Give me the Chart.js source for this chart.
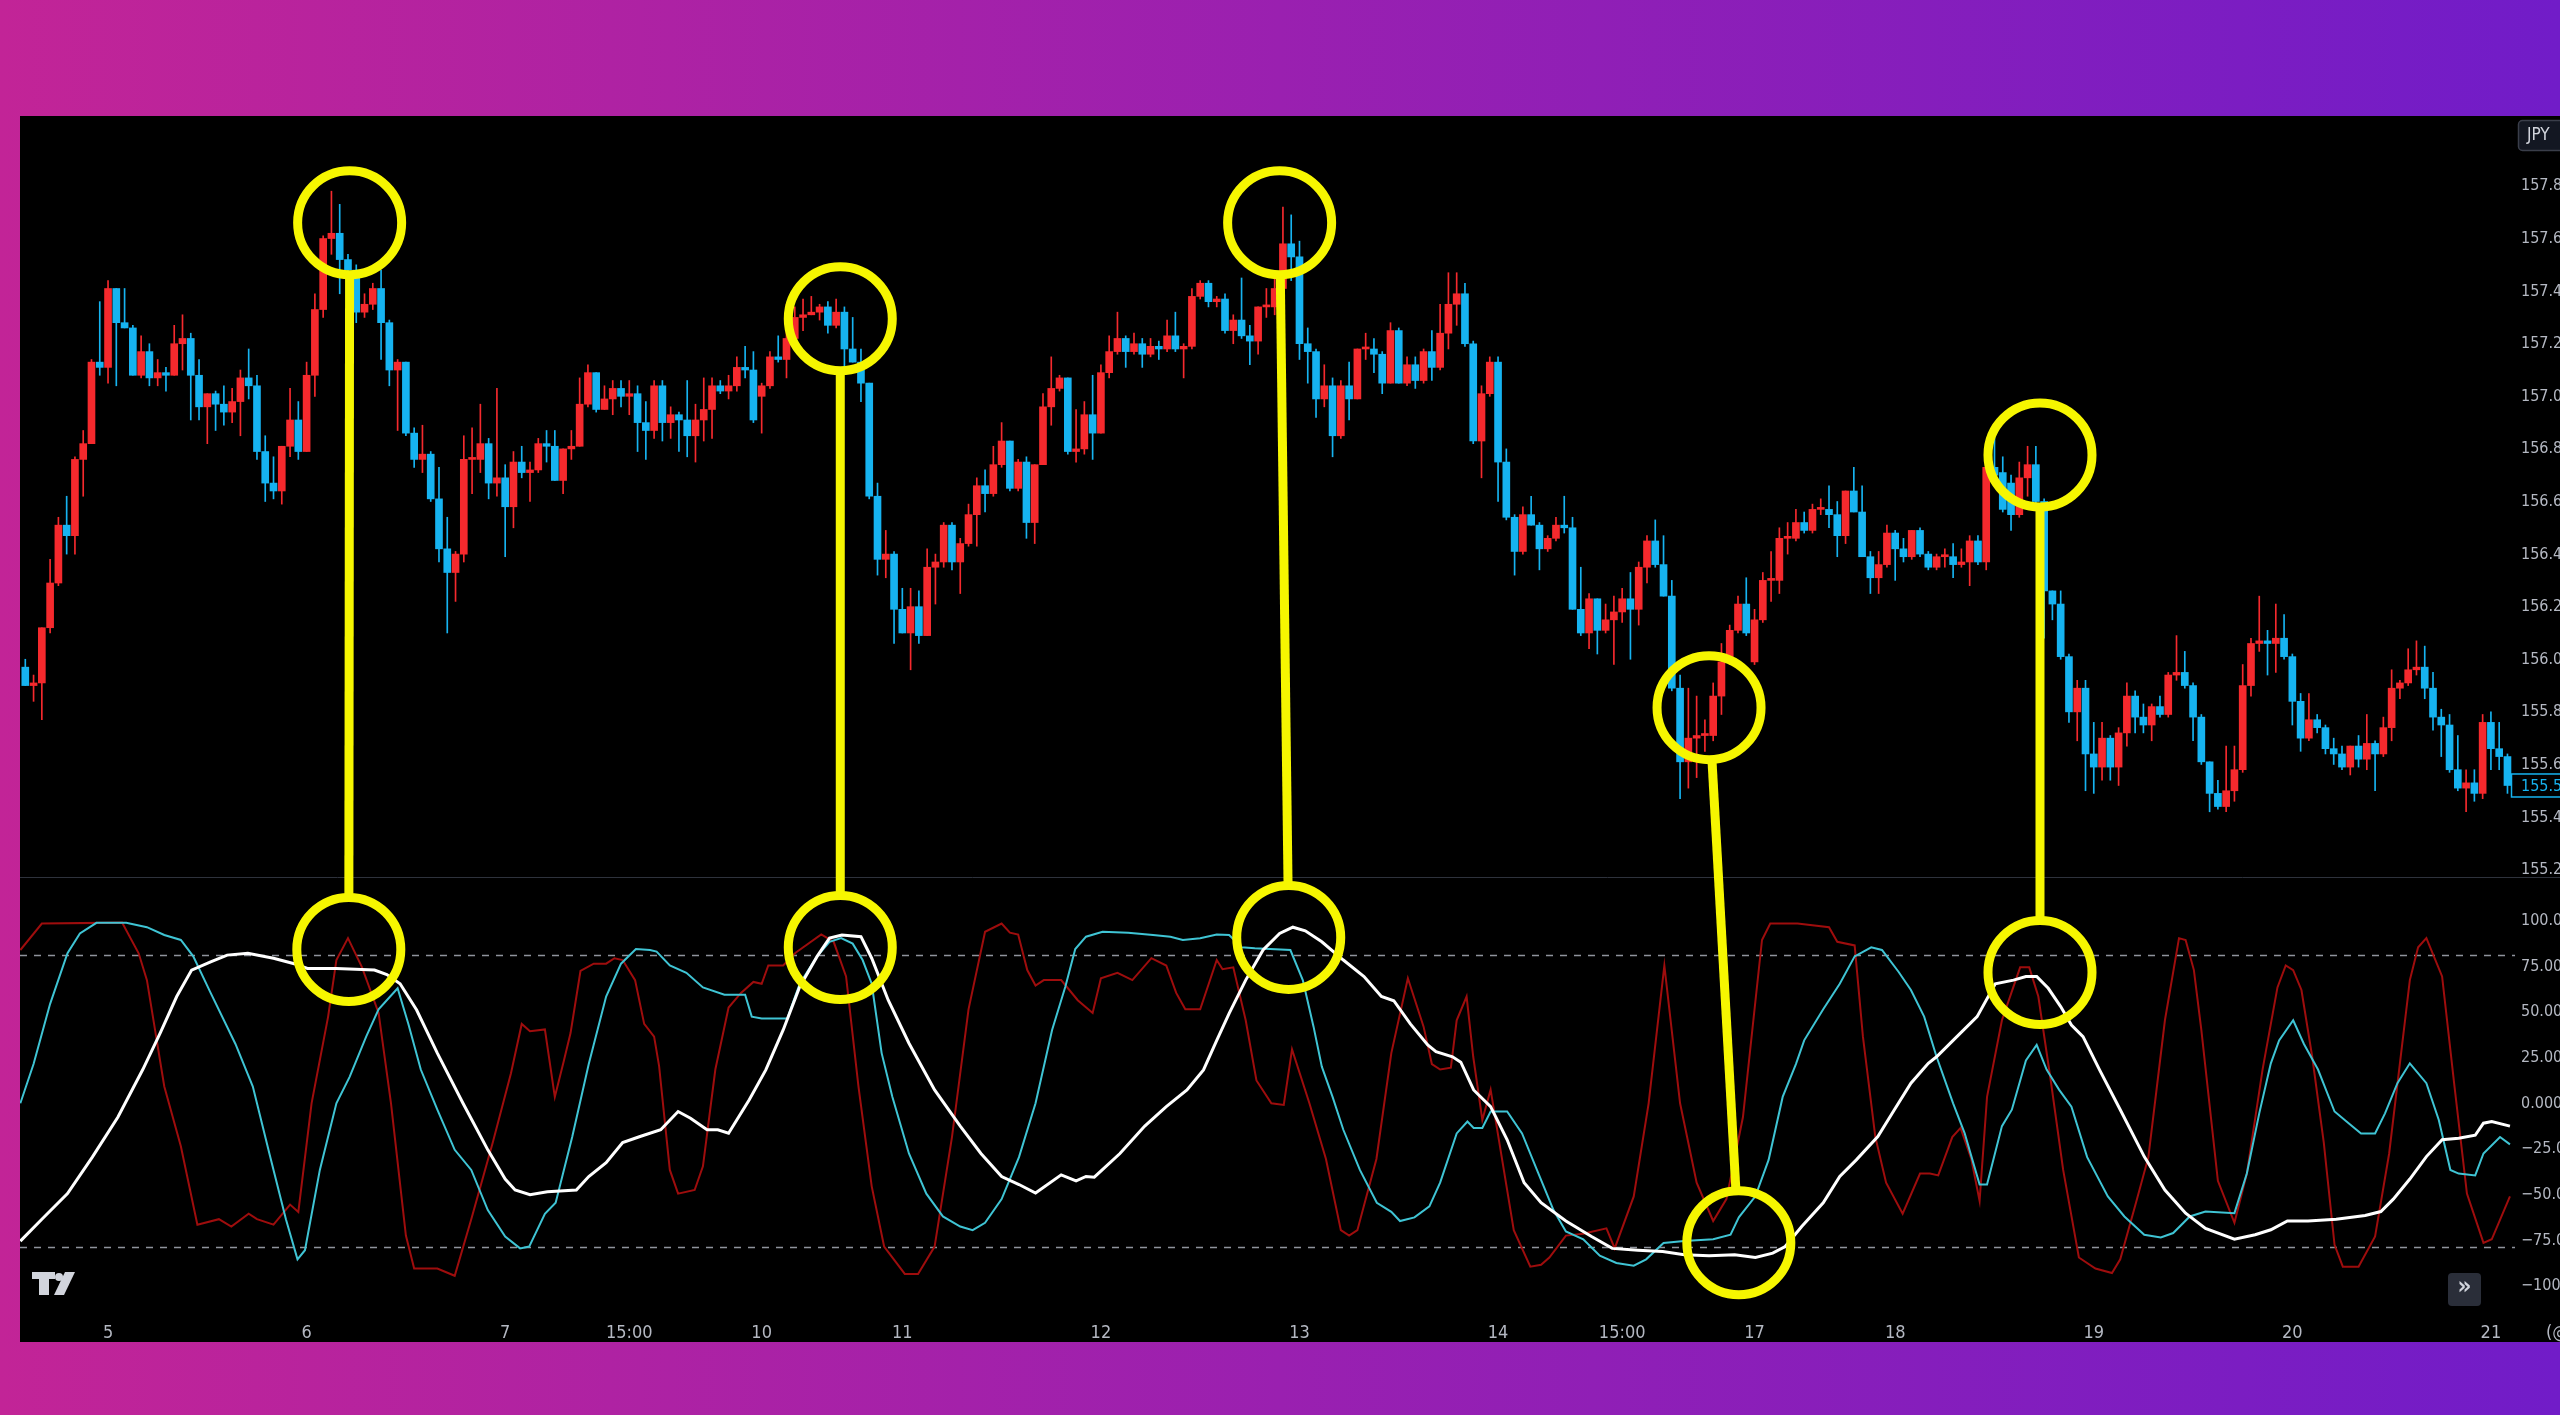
<!DOCTYPE html>
<html>
<head>
<meta charset="utf-8">
<script src="https://cdn.jsdelivr.net/npm/chart.js@4.4.1/dist/chart.umd.min.js"></script>
<style>
  html, body { margin: 0; padding: 0; width: 2560px; height: 1415px; overflow: hidden;
    background: linear-gradient(90deg, #c22497 0%, #9a20b0 50%, #711cc8 100%); }
  #wrap { position: absolute; left: 20px; top: 116px; width: 2540px; height: 1226px; background: #000; }
  canvas { display: block; }
</style>
</head>
<body>
<div id="wrap"><canvas id="chart" width="2540" height="1226"></canvas></div>
<script>
// hourly candles, index 0 = first bar on the left
const openP = [
  155.96,155.89,155.90,156.11,156.28,156.50,156.46,156.75,156.81,157.12,
  157.10,157.40,157.27,157.25,157.07,157.16,157.06,157.08,157.07,157.19,
  157.21,157.07,156.95,157.00,156.96,156.93,156.97,157.06,157.03,156.78,
  156.66,156.63,156.80,156.90,156.78,157.07,157.32,157.59,157.61,157.51,
  157.47,157.31,157.34,157.40,157.27,157.09,157.12,156.85,156.75,156.77,
  156.60,156.41,156.32,156.39,156.75,156.75,156.81,156.66,156.68,156.57,
  156.74,156.70,156.71,156.81,156.80,156.67,156.79,156.80,156.96,157.08,
  156.94,156.98,157.02,156.99,157.00,156.89,156.86,157.03,156.89,156.92,
  156.90,156.84,156.90,156.94,157.03,157.01,157.03,157.10,157.09,156.99,
  157.03,157.14,157.13,157.21,157.29,157.30,157.31,157.33,157.26,157.31,
  157.17,157.12,157.04,156.61,156.37,156.39,156.18,156.09,156.19,156.08,
  156.34,156.36,156.50,156.36,156.43,156.54,156.65,156.62,156.73,156.82,
  156.64,156.74,156.51,156.73,156.95,157.02,157.06,156.78,156.79,156.92,
  156.85,157.08,157.16,157.21,157.16,157.19,157.15,157.18,157.17,157.22,
  157.17,157.18,157.37,157.42,157.35,157.36,157.24,157.28,157.22,157.20,
  157.33,157.33,157.40,157.57,157.52,157.19,157.16,156.98,157.03,156.84,
  157.03,156.98,157.17,157.17,157.15,157.04,157.24,157.04,157.11,157.05,
  157.16,157.10,157.23,157.34,157.38,157.19,156.82,157.00,157.12,156.74,
  156.53,156.40,156.54,156.50,156.41,156.45,156.50,156.49,156.18,156.09,
  156.22,156.10,156.14,156.17,156.22,156.18,156.34,156.44,156.35,156.23,
  155.88,155.60,155.69,155.70,155.70,155.85,155.98,156.10,156.20,155.98,
  156.14,156.29,156.29,156.45,156.45,156.51,156.48,156.56,156.56,156.54,
  156.46,156.63,156.55,156.38,156.30,156.35,156.47,156.41,156.38,156.48,
  156.39,156.34,156.38,156.38,156.35,156.36,156.44,156.36,156.72,156.70,
  156.66,156.54,156.68,156.73,156.59,156.25,156.20,156.00,155.79,155.88,
  155.63,155.58,155.69,155.58,155.71,155.85,155.77,155.74,155.81,155.78,
  155.93,155.94,155.89,155.77,155.60,155.48,155.43,155.49,155.57,155.89,
  156.05,156.06,156.05,156.07,156.00,155.83,155.69,155.76,155.73,155.65,
  155.63,155.58,155.66,155.61,155.67,155.63,155.73,155.88,155.90,155.95,
  155.96,155.88,155.77,155.74,155.57,155.50,155.52,155.48,155.75,155.65,
  155.62
];
const highP = [
  155.99,155.93,156.11,156.37,156.53,156.61,156.76,156.86,157.13,157.35,
  157.43,157.40,157.40,157.26,157.22,157.19,157.13,157.10,157.26,157.30,
  157.23,157.13,157.00,157.01,157.03,157.02,157.09,157.17,157.07,156.84,
  156.76,156.80,157.02,156.97,157.12,157.38,157.60,157.77,157.72,157.53,
  157.49,157.38,157.42,157.47,157.28,157.13,157.12,156.87,156.88,156.78,
  156.72,156.53,156.40,156.84,156.87,156.96,156.83,157.02,156.73,156.78,
  156.80,156.74,156.83,156.86,156.86,156.79,156.86,157.06,157.11,157.08,
  157.03,157.05,157.05,157.05,157.03,156.97,157.05,157.05,156.95,156.93,
  157.05,156.96,157.06,157.06,157.05,157.07,157.14,157.18,157.16,157.04,
  157.16,157.22,157.34,157.33,157.36,157.37,157.34,157.35,157.36,157.33,
  157.29,157.17,157.04,156.66,156.48,156.40,156.26,156.26,156.25,156.41,
  156.39,156.51,156.51,156.45,156.58,156.68,156.71,156.80,156.89,156.82,
  156.75,156.76,156.73,157.00,157.14,157.07,157.06,156.94,156.97,157.07,
  157.11,157.22,157.31,157.22,157.23,157.21,157.21,157.20,157.28,157.31,
  157.19,157.40,157.43,157.43,157.37,157.38,157.30,157.44,157.26,157.33,
  157.40,157.44,157.71,157.68,157.58,157.25,157.17,157.11,157.06,157.05,
  157.12,157.17,157.23,157.21,157.16,157.27,157.25,157.14,157.14,157.17,
  157.24,157.34,157.46,157.46,157.42,157.20,157.03,157.14,157.14,156.79,
  156.54,156.57,156.61,156.51,156.46,156.53,156.61,156.53,156.34,156.24,
  156.22,156.20,156.23,156.26,156.32,156.36,156.46,156.52,156.46,156.29,
  155.93,155.88,155.85,155.76,155.90,156.05,156.12,156.23,156.30,156.18,
  156.32,156.40,156.49,156.51,156.56,156.55,156.58,156.60,156.65,156.59,
  156.63,156.72,156.65,156.40,156.40,156.50,156.48,156.45,156.48,156.49,
  156.40,156.39,156.41,156.43,156.41,156.46,156.46,156.72,156.84,156.76,
  156.69,156.74,156.80,156.80,156.60,156.25,156.25,156.01,155.91,155.91,
  155.75,155.75,155.70,155.73,155.90,155.87,155.82,155.82,155.85,155.94,
  156.08,156.02,155.90,155.78,155.60,155.53,155.66,155.66,155.97,156.07,
  156.23,156.10,156.20,156.16,156.01,155.86,155.86,155.78,155.74,155.69,
  155.66,155.66,155.70,155.78,155.68,155.77,155.95,155.91,156.03,156.06,
  156.04,155.94,155.80,155.78,155.70,155.57,155.57,155.78,155.79,155.75,
  155.63
];
const lowP = [
  155.89,155.83,155.76,156.09,156.27,156.39,156.39,156.61,156.81,157.07,
  157.04,157.03,157.25,157.07,157.06,157.03,157.03,157.01,157.07,157.09,
  156.90,156.90,156.81,156.86,156.88,156.89,156.84,156.98,156.75,156.59,
  156.60,156.58,156.76,156.75,156.78,156.99,157.29,157.53,157.38,157.44,
  157.27,157.29,157.32,157.13,157.03,156.86,156.84,156.72,156.70,156.59,
  156.36,156.09,156.21,156.36,156.62,156.70,156.60,156.61,156.38,156.49,
  156.68,156.59,156.70,156.74,156.67,156.62,156.75,156.80,156.95,156.93,
  156.94,156.92,156.95,156.92,156.78,156.75,156.83,156.82,156.83,156.78,
  156.76,156.74,156.82,156.83,157.00,156.98,157.01,157.06,156.89,156.85,
  157.02,157.12,157.06,157.20,157.24,157.30,157.28,157.23,157.25,157.10,
  157.12,156.97,156.60,156.31,156.30,156.05,156.09,155.95,156.05,156.08,
  156.20,156.34,156.33,156.24,156.42,156.42,156.55,156.61,156.72,156.63,
  156.63,156.45,156.43,156.73,156.88,157.01,156.77,156.74,156.77,156.75,
  156.85,157.06,157.15,157.10,157.15,157.10,157.14,157.13,157.16,157.16,
  157.06,157.17,157.36,157.33,157.33,157.23,157.19,157.21,157.11,157.15,
  157.29,157.30,157.40,157.43,157.13,157.04,156.91,156.95,156.76,156.83,
  156.90,156.98,157.13,157.08,157.00,157.04,157.04,157.03,157.02,157.04,
  157.05,157.09,157.17,157.26,157.18,156.81,156.68,156.99,156.59,156.52,
  156.31,156.39,156.50,156.33,156.40,156.44,156.47,156.18,156.08,156.03,
  156.01,156.09,155.97,156.13,155.99,156.12,156.28,156.34,156.23,155.87,
  155.46,155.50,155.54,155.64,155.68,155.78,155.97,156.09,156.08,155.97,
  156.13,156.21,156.24,156.39,156.44,156.47,156.47,156.54,156.49,156.38,
  156.43,156.55,156.38,156.24,156.24,156.34,156.29,156.36,156.37,156.38,
  156.33,156.33,156.34,156.30,156.34,156.27,156.35,156.33,156.65,156.55,
  156.48,156.53,156.61,156.56,156.07,156.14,155.99,155.75,155.68,155.49,
  155.48,155.53,155.53,155.51,155.66,155.71,155.71,155.68,155.77,155.77,
  155.91,155.88,155.68,155.59,155.41,155.42,155.41,155.45,155.56,155.85,
  156.02,155.93,155.94,155.99,155.74,155.64,155.68,155.71,155.63,155.59,
  155.57,155.55,155.58,155.57,155.49,155.62,155.68,155.84,155.89,155.93,
  155.84,155.72,155.62,155.56,155.49,155.41,155.45,155.46,155.57,155.57,
  155.48
];
const closeP = [
  155.89,155.90,156.11,156.28,156.50,156.46,156.75,156.81,157.12,157.10,
  157.40,157.27,157.25,157.07,157.16,157.06,157.08,157.07,157.19,157.21,
  157.07,156.95,157.00,156.96,156.93,156.97,157.06,157.03,156.78,156.66,
  156.63,156.80,156.90,156.78,157.07,157.32,157.59,157.61,157.51,157.47,
  157.31,157.34,157.40,157.27,157.09,157.12,156.85,156.75,156.77,156.60,
  156.41,156.32,156.39,156.75,156.75,156.81,156.66,156.68,156.57,156.74,
  156.70,156.71,156.81,156.80,156.67,156.79,156.80,156.96,157.08,156.94,
  156.98,157.02,156.99,157.00,156.89,156.86,157.03,156.89,156.92,156.90,
  156.84,156.90,156.94,157.03,157.01,157.03,157.10,157.09,156.90,157.03,
  157.14,157.13,157.21,157.29,157.30,157.31,157.33,157.26,157.31,157.17,
  157.12,157.04,156.61,156.37,156.39,156.18,156.09,156.19,156.08,156.34,
  156.36,156.50,156.36,156.43,156.54,156.65,156.62,156.73,156.82,156.64,
  156.74,156.51,156.73,156.95,157.02,157.06,156.78,156.79,156.92,156.85,
  157.08,157.16,157.21,157.16,157.19,157.15,157.18,157.17,157.22,157.17,
  157.18,157.37,157.42,157.35,157.36,157.24,157.28,157.22,157.20,157.33,
  157.33,157.40,157.57,157.52,157.19,157.16,156.98,157.03,156.84,157.03,
  156.98,157.17,157.17,157.15,157.04,157.24,157.04,157.11,157.05,157.16,
  157.10,157.23,157.34,157.38,157.19,156.82,157.00,157.12,156.74,156.53,
  156.40,156.54,156.50,156.41,156.45,156.50,156.49,156.18,156.09,156.22,
  156.10,156.14,156.17,156.22,156.18,156.34,156.44,156.35,156.23,155.88,
  155.60,155.69,155.70,155.70,155.85,155.98,156.10,156.20,156.09,156.14,
  156.29,156.29,156.45,156.45,156.51,156.48,156.56,156.56,156.54,156.46,
  156.63,156.55,156.38,156.30,156.35,156.47,156.41,156.38,156.48,156.39,
  156.34,156.38,156.38,156.35,156.36,156.44,156.36,156.72,156.69,156.56,
  156.54,156.68,156.73,156.59,156.25,156.20,156.00,155.79,155.88,155.63,
  155.58,155.69,155.58,155.71,155.85,155.77,155.74,155.81,155.78,155.93,
  155.94,155.89,155.77,155.60,155.48,155.43,155.49,155.57,155.89,156.05,
  156.06,156.05,156.07,156.00,155.83,155.69,155.76,155.73,155.65,155.63,
  155.58,155.66,155.61,155.67,155.63,155.73,155.88,155.90,155.95,155.96,
  155.88,155.77,155.74,155.57,155.50,155.52,155.48,155.75,155.65,155.62,
  155.51
];

// oscillator lines: [bar index, value]
const oscWhite = [
  [-0.6,-77],[2,-65],[5.1,-51],[8.1,-31],[11.2,-9],[14.2,17],[16.3,37],[18.3,57],[20.1,71.5],[22.4,76],
  [24.4,79.7],[26.9,80.7],[30,78],[32.5,75],[34.1,72.4],[37.6,72.4],[42.2,71.5],[43.7,69],[45.3,64],[47.3,49.6],
  [49.8,26],[52.9,-1.5],[55.9,-27],[58,-43],[59.2,-49],[61,-51.6],[63.1,-50],[66.6,-49],[68.1,-41.6],[70.2,-34],
  [72.2,-23],[74.3,-19.7],[76.8,-16],[78.9,-6],[80.4,-9.7],[82.4,-16],[83.7,-16],[85,-17.9],[87.5,0.4],[89.5,16.8],
  [91.6,38.7],[93.6,62.4],[95.7,79],[97.2,89],[98.7,90.7],[101,89.8],[102.3,78],[104.3,55],[106.8,31.4],[109.9,5.8],
  [113,-14],[115.5,-29],[118,-41.6],[120.1,-46],[122.1,-50.7],[125.2,-40.7],[127,-44],[128.2,-41.6],[129.2,-42],[132.3,-29],
  [135.3,-14],[137.9,-3.3],[140.4,5.8],[142.4,16.8],[144,33],[145.5,47.8],[147.5,66],[149.6,82.5],[151.6,91.6],[153.2,95],
  [154.7,93],[156.7,87],[159.3,77],[161.8,68],[163.9,57],[165.4,54.7],[167.4,42],[169.5,30.5],[170.5,26.8],[172.5,24],
  [173.5,21],[175.05,5.8],[177.1,-3.3],[179.1,-21.5],[181.15,-45],[183.2,-56],[186.2,-66],[189.3,-74.5],[191.8,-81],[194.9,-82],
  [197.9,-82.7],[200.5,-84.5],[203.5,-85],[206.6,-84.5],[209.1,-86],[211.2,-83.6],[212.7,-80],[214.7,-69],[217.3,-56],[219.3,-41.6],
  [221.3,-32.5],[223.9,-19.7],[225.9,-5],[227.9,9.5],[230,20.4],[231,24],[233,33],[235.9,46],[238.1,64],[240.3,66],
  [241.8,68],[243.1,68],[244.5,61.5],[246,51.5],[247.3,41.4],[248.7,35],[250.7,16.8],[253.2,-5],[256.1,-30.7],[258.6,-49],
  [261.1,-61.7],[263.5,-70],[267,-76],[269.5,-73.5],[271.4,-70.8],[273.4,-66],[275.9,-66],[279.3,-65],[282.8,-63],[284.7,-60.8],
  [286.2,-54],[288.2,-43],[290.2,-30.7],[292.1,-21.5],[294.1,-20.6],[296.1,-19],[297.1,-12.4],[298.1,-11.5],[300.3,-14]
];
const oscCyan = [
  [-0.6,-1.5],[1,20],[3,53],[5.1,80.7],[6.6,91.6],[8.6,97.4],[12.2,97.4],[14.7,95],[16.8,90.7],[18.8,88],
  [20.3,79],[22.4,59],[25.4,31],[27.5,7.7],[29.5,-29],[31.5,-65],[32.9,-87],[33.8,-82],[35.6,-38],[37.6,-1.5],
  [39.2,13],[41.2,35],[42.7,50],[45,61.5],[46.3,42],[47.8,17],[49.8,-5],[51.9,-27],[53.9,-38],[55.9,-60],
  [58,-74.5],[59.8,-81],[60.9,-80],[62.8,-62],[64.1,-56],[66.1,-20],[68.1,20],[70.2,57],[72,75],[73.8,83],
  [75.5,82.5],[76.3,81.6],[77.9,74],[79.9,70],[81.9,62],[84.5,58],[87,58],[87.8,46],[89,45],[92.1,45],
  [93.6,64],[95.7,79],[97.2,87],[98.6,89],[100,86],[101.2,77],[102.3,64],[103.5,26],[104.8,2],[106.8,-29],
  [108.9,-51],[110.9,-63.5],[113,-69],[114.5,-71],[116,-67],[118,-54],[120.1,-31],[122.1,-1.5],[124.1,38.7],[125.7,62.4],
  [126.9,83],[128.2,89.8],[130.2,92.5],[133.3,92],[136.3,90.7],[138.4,89.8],[139.9,88],[142,89],[144,91],[145.5,90.7],
  [147,84],[148.6,83.4],[152.9,82.5],[154.4,66],[155.7,40.5],[156.7,18.6],[158,2],[159.3,-16],[161.3,-38],[163.35,-56],
  [165.1,-61],[166.15,-66],[167.9,-64],[169.7,-58],[171,-45],[173,-18],[174.3,-11.5],[175.05,-15],[176.1,-15],[177.1,-6],
  [179.1,-6],[180.9,-18],[182.7,-38],[184.7,-60],[186.2,-71.7],[188.3,-76],[190.3,-85],[192.3,-89],[194.4,-90.5],[195.9,-87],
  [198,-78],[200.5,-77],[204,-76],[206.1,-73.5],[207.1,-64],[209.1,-52.5],[210.7,-32.5],[212.4,2],[214,20],[215,33],
  [217.3,50],[219.3,64],[221.1,79],[223.1,84],[224.4,82.5],[226.4,70.6],[227.9,60.6],[229.5,46],[231,24],[233,-1.5],
  [234.4,-18],[236.2,-46],[237.1,-46],[238.9,-14],[240.1,-5],[241.8,22],[243.1,30.5],[244.3,17],[245.8,6],[247.3,-3.3],
  [249.2,-31],[251.7,-52.5],[253.7,-63.5],[256.1,-73.5],[258.1,-75],[259.6,-72.6],[261.6,-63.5],[263.5,-60.8],[267,-61.7],[268.5,-40],
  [270,-7],[271.4,20.4],[272.4,33],[274.1,44],[275.4,31],[277.1,17],[279.1,-6],[280.8,-12.4],[282.3,-18],[284,-18],
  [285.2,-7],[286.7,9.5],[288.2,20.4],[290.2,9.5],[291.7,-10.6],[293.1,-38],[294.1,-40],[296.1,-41],[297.1,-29],[299.1,-20],
  [300.3,-24]
];
const oscRed = [
  [-0.6,82.5],[2,97],[11.7,97.5],[13.7,80.7],[14.7,66],[16.8,7.7],[18.8,-25],[20.8,-68],[23.4,-65],[24.9,-69],
  [27,-62],[28,-65],[30,-68],[32,-57],[33,-61],[34.6,-1.5],[36.6,46],[37.6,77],[39,89],[40.7,73],
  [42.7,48],[44.2,-1.5],[46,-74],[47,-92],[49.8,-92],[51.9,-96],[53.9,-65],[56.5,-23],[58.7,15],[60,42],
  [61,38],[62.8,39],[64,2],[65.1,22],[65.9,37],[67.1,71],[68.7,75],[70.2,75],[71.2,78],[72.2,77],
  [73.7,66],[74.8,42],[76,35],[76.6,19],[77.9,-38],[78.9,-51],[80.9,-49],[81.9,-36],[83.4,17],[85,51],
  [86.5,59],[88,65],[89,64],[89.8,74],[91.6,74],[93.1,81],[96.2,91],[97.7,87],[99.2,68],[100.7,7.7],
  [102.3,-47],[103.8,-80],[106.3,-95],[107.9,-95],[109.9,-80],[112,-20],[114,50],[116,92.5],[118,97],[119,92],
  [120,91],[121.1,71.5],[122.1,63],[123.1,66],[125.2,66],[127.2,55],[129,48],[130,67],[132,70],[133.8,66],
  [136.1,78],[137.9,74],[139.1,59],[140.2,50],[142,50],[144,77],[144.7,72],[146,73],[147.5,44],[148.8,11],
  [150.6,-1.5],[152.1,-2.4],[153.1,28],[155.2,-1.5],[157.2,-32],[159,-71],[160,-74],[161,-71],[163.3,-32],[165.1,26],
  [167.1,67],[169,40.5],[170,20],[171,17],[172.3,18],[173,44],[174.2,57],[175,24],[176.1,-10.6],[177.1,6],
  [178.1,-21.5],[179.9,-71],[181.9,-91],[183.2,-90],[184.2,-86],[186.2,-74],[188.3,-73],[191.1,-70],[192.1,-81],[194.4,-52.5],
  [196.2,-1.5],[198.1,74],[200,-1.5],[202,-45],[204,-66],[205.6,-54],[207.6,-9],[209.9,88],[210.9,97],[214.2,97],
  [218,95],[219,87],[221.1,85],[222.1,35],[223.6,-20],[224.9,-45],[226.9,-62],[229,-40],[230.2,-40],[231.2,-41],
  [232.9,-20],[233.9,-15],[235.2,-32],[236.2,-55],[237.1,2],[238.9,44],[241.1,73],[242.2,73],[243.3,57],[244.8,11],
  [246.3,-38],[248.2,-86],[250.2,-92],[252.2,-94.5],[253.2,-87],[255.1,-56],[256.6,-31],[258.6,44],[260.3,89],[261.1,88],
  [262.1,71.5],[263,38.7],[265,-44],[267,-67],[268.5,-40],[270.4,17],[272.2,62],[273.2,74],[274.1,71.5],[275.1,60.6],
  [276.4,24],[277.8,-23],[279.1,-79],[280.1,-91],[282,-91],[284,-74.5],[285.7,-29],[288.2,66],[289.2,84],[290.2,89],
  [292.1,68],[293.6,7.7],[295.1,-51],[297.1,-78],[298.1,-76],[300.3,-52.5]
];

// axis labels
const tickIdx  = [10, 34, 58, 73, 89, 106, 130, 154, 178, 193, 209, 226, 250, 274, 298];
const tickText = ['5', '6', '7', '15:00', '10', '11', '12', '13', '14', '15:00', '17', '18', '19', '20', '21'];
const priceTicks = [155.2, 155.4, 155.6, 155.8, 156.0, 156.2, 156.4, 156.6, 156.8, 157.0, 157.2, 157.4, 157.6, 157.8];
const oscTicks = [-100, -75, -50, -25, 0, 25, 50, 75, 100];
const bandLevels = [80, -80];

// yellow marks: [bar index, price] on top, [bar index, osc value] below
const markTop = [[39.2, 157.65], [98.5, 157.285], [151.6, 157.65], [203.5, 155.806], [243.5, 156.767]];
const markBottom = [[39.1, 82.8], [98.5, 83.9], [152.7, 89.4], [207.1, -77.9], [243.5, 70.2]];

const UP = '#f5292d';
const DOWN = '#16b3f0';
const YELLOW = '#f6f600';
const AXIS_TXT = '#b4b8c2';
const FONT = "'Liberation Sans Narrow', 'DejaVu Sans Condensed', 'Liberation Sans', sans-serif";

const barColors = openP.map((o, i) => closeP[i] >= o ? UP : DOWN);
const bodyData = openP.map((o, i) => ({ x: i, y: [Math.min(o, closeP[i]), Math.max(o, closeP[i])] }));
const wickData = openP.map((o, i) => ({ x: i, y: [lowP[i], highP[i]] }));
const toPts = arr => arr.map(p => ({ x: p[0], y: p[1] }));

// keep the plot area flush with the canvas edges
const fixVertical = s => { s.width = 45; s.paddingTop = 0; s.paddingBottom = 0; };

const overlay = {
  id: 'overlay',
  beforeDatasetsDraw(chart) {
    const { ctx, chartArea: a, scales: { y, y2 } } = chart;
    ctx.save();
    ctx.strokeStyle = '#2e323c';
    ctx.lineWidth = 1;
    ctx.beginPath();
    ctx.moveTo(0, Math.round(y.bottom) + 0.5);
    ctx.lineTo(chart.width, Math.round(y.bottom) + 0.5);
    ctx.stroke();

    ctx.strokeStyle = '#8f939c';
    ctx.lineWidth = 1.5;
    ctx.setLineDash([7, 7]);
    bandLevels.forEach(v => {
      const py = Math.round(y2.getPixelForValue(v)) + 0.5;
      ctx.beginPath();
      ctx.moveTo(a.left, py);
      ctx.lineTo(a.right, py);
      ctx.stroke();
    });
    ctx.restore();
  },
  afterDatasetsDraw(chart) {
    const { ctx, scales: { x, y, y2 } } = chart;
    const R = 52;
    ctx.save();

    // yellow circles and connectors
    ctx.strokeStyle = YELLOW;
    ctx.lineWidth = 9;
    markTop.forEach((t, k) => {
      const b = markBottom[k];
      const p1 = { x: x.getPixelForValue(t[0]), y: y.getPixelForValue(t[1]) };
      const p2 = { x: x.getPixelForValue(b[0]), y: y2.getPixelForValue(b[1]) };
      const dx = p2.x - p1.x, dy = p2.y - p1.y;
      const len = Math.hypot(dx, dy);
      const ux = dx / len, uy = dy / len;
      ctx.beginPath();
      ctx.moveTo(p1.x + ux * R, p1.y + uy * R);
      ctx.lineTo(p2.x - ux * R, p2.y - uy * R);
      ctx.stroke();
      [p1, p2].forEach(p => {
        ctx.beginPath();
        ctx.arc(p.x, p.y, R, 0, Math.PI * 2);
        ctx.stroke();
      });
    });

    // currency box
    ctx.fillStyle = '#131722';
    ctx.strokeStyle = '#3a3e4a';
    ctx.lineWidth = 1.5;
    ctx.beginPath();
    ctx.roundRect(2498.5, 4.5, 60, 30, 4);
    ctx.fill();
    ctx.stroke();
    ctx.fillStyle = '#d1d4dc';
    ctx.font = '17px ' + FONT;
    ctx.textBaseline = 'middle';
    ctx.textAlign = 'left';
    ctx.fillText('JPY', 2507, 20);

    // last price tag
    const last = closeP[closeP.length - 1];
    const ly = y.getPixelForValue(last);
    ctx.fillStyle = '#000';
    ctx.fillRect(2491, ly - 11.5, 60, 23);
    ctx.strokeStyle = DOWN;
    ctx.lineWidth = 1.5;
    ctx.strokeRect(2491.5, ly - 11.5, 60, 23);
    ctx.fillStyle = DOWN;
    ctx.font = '16px ' + FONT;
    ctx.fillText(last.toFixed(3), 2501, ly + 1);

    // TradingView logo
    ctx.fillStyle = '#d1d4dc';
    ctx.fillRect(12, 1156, 23, 7);
    ctx.fillRect(19, 1156, 10, 23);
    ctx.beginPath();
    ctx.arc(39, 1161, 4, 0, Math.PI * 2);
    ctx.fill();
    ctx.beginPath();
    ctx.moveTo(45, 1156);
    ctx.lineTo(55, 1156);
    ctx.lineTo(44, 1179);
    ctx.lineTo(34, 1179);
    ctx.closePath();
    ctx.fill();

    // scroll button
    ctx.fillStyle = '#2a2e39';
    ctx.beginPath();
    ctx.roundRect(2428, 1157, 33, 33, 4);
    ctx.fill();
    ctx.fillStyle = '#d1d4dc';
    ctx.font = 'bold 24px ' + FONT;
    ctx.textAlign = 'center';
    ctx.fillText('\u00bb', 2444.5, 1172);

    ctx.fillStyle = AXIS_TXT;
    ctx.textAlign = 'left';
    ctx.font = '18px ' + FONT;
    ctx.fillText('(@', 2526, 1217);
    ctx.restore();
  }
};

new Chart(document.getElementById('chart'), {
  type: 'bar',
  data: {
    datasets: [
      { type: 'bar', data: bodyData, yAxisID: 'y', backgroundColor: barColors,
        barThickness: 7, minBarLength: 2, grouped: false },
      { type: 'bar', data: wickData, yAxisID: 'y', backgroundColor: barColors,
        barThickness: 1, grouped: false },
      { type: 'line', data: toPts(oscWhite), yAxisID: 'y2', borderColor: '#ffffff',
        borderWidth: 3, pointRadius: 0, tension: 0 },
      { type: 'line', data: toPts(oscCyan), yAxisID: 'y2', borderColor: '#3fc4d4',
        borderWidth: 2, pointRadius: 0, tension: 0 },
      { type: 'line', data: toPts(oscRed), yAxisID: 'y2', borderColor: '#9e0d0d',
        borderWidth: 2, pointRadius: 0, tension: 0 }
    ]
  },
  options: {
    responsive: false,
    animation: false,
    devicePixelRatio: 1,
    layout: { padding: 0 },
    plugins: { legend: { display: false }, tooltip: { enabled: false } },
    scales: {
      x: {
        type: 'linear', min: -0.64, max: 300.91, offset: false,
        grid: { display: false, drawTicks: false }, border: { display: false },
        afterBuildTicks: s => { s.ticks = tickIdx.map(v => ({ value: v })); },
        afterFit: s => { s.height = 29; s.paddingLeft = 0; s.paddingRight = 0; },
        ticks: {
          autoSkip: false, maxRotation: 0, padding: 10, color: AXIS_TXT,
          font: { family: FONT, size: 18 },
          callback: v => tickText[tickIdx.indexOf(v)] ?? ''
        }
      },
      y: {
        type: 'linear', position: 'right', stack: 'pane', stackWeight: 761,
        min: 155.162, max: 158.056,
        grid: { display: false, drawTicks: false }, border: { display: false },
        afterBuildTicks: s => { s.ticks = priceTicks.map(v => ({ value: v })); },
        afterFit: fixVertical,
        ticks: {
          padding: 6, labelOffset: 3, color: AXIS_TXT, font: { family: FONT, size: 16 },
          callback: v => v.toFixed(3)
        }
      },
      y2: {
        type: 'linear', position: 'right', stack: 'pane', stackWeight: 436,
        min: -116.4, max: 122.5,
        grid: { display: false, drawTicks: false }, border: { display: false },
        afterBuildTicks: s => { s.ticks = oscTicks.map(v => ({ value: v })); },
        afterFit: fixVertical,
        ticks: {
          padding: 6, labelOffset: 3, color: AXIS_TXT, font: { family: FONT, size: 16 },
          callback: v => v === 0 ? '0.000' : (v < 0 ? '\u2212' + Math.abs(v).toFixed(2) : v.toFixed(2))
        }
      }
    }
  },
  plugins: [overlay]
});
</script>
</body>
</html>
